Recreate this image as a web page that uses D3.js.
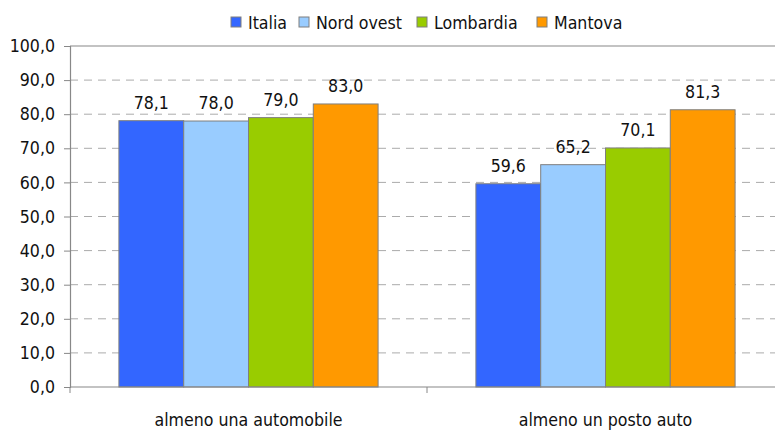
<!DOCTYPE html>
<html><head><meta charset="utf-8">
<script src="https://cdn.jsdelivr.net/npm/d3@7"></script>
<style>body{margin:0;background:#fff}svg{display:block}text{font-family:"DejaVu Sans Condensed","DejaVu Sans",sans-serif;font-stretch:condensed;fill:#111}</style>
</head><body><svg id="c" width="775" height="430"></svg>
<script>
const categories = ["almeno una automobile", "almeno un posto auto"];
const seriesNames = ["Italia", "Nord ovest", "Lombardia", "Mantova"];
const italia = [78.1, 59.6];
const nordOvest = [78.0, 65.2];
const lombardia = [79.0, 70.1];
const mantova = [83.0, 81.3];
const yTicks = [0, 10, 20, 30, 40, 50, 60, 70, 80, 90, 100];
const colors = ["#3366FF", "#99CCFF", "#99CC00", "#FF9900"];

const seriesValues = [italia, nordOvest, lombardia, mantova];
const fmt = v => d3.format(".1f")(v).replace(".", ",");
const svg = d3.select("#c");
const L = 70, R = 784, T = 46, B = 387;
const fs = 17.6;
const FF = '"DejaVu Sans Condensed","DejaVu Sans",sans-serif';

const y = d3.scaleLinear().domain([0, 100]).range([B, T]);
const x0 = d3.scaleBand().domain(categories).range([L, R]).padding(0);
const bw = x0.bandwidth();
const x1 = d3.scaleBand().domain(seriesNames).range([bw * 0.137, bw * (1 - 0.137)]).padding(0);

// gridlines
svg.append("g").selectAll("line").data(yTicks.filter(t => t > 0 && t < 100)).join("line")
  .attr("x1", L).attr("x2", 775).attr("y1", d => y(d)).attr("y2", d => y(d))
  .attr("stroke", "#ababab").attr("stroke-width", 1).attr("stroke-dasharray", "8,6");
// top border
svg.append("line").attr("x1", L).attr("x2", 775).attr("y1", y(100)).attr("y2", y(100))
  .attr("stroke", "#888").attr("stroke-width", 1.2);

// bars
const groups = svg.append("g").selectAll("g").data(categories).join("g")
  .attr("transform", d => `translate(${x0(d)},0)`);
groups.selectAll("rect").data((c, ci) => seriesNames.map((s, si) => ({s, si, v: seriesValues[si][ci]}))).join("rect")
  .attr("x", d => x1(d.s)).attr("width", x1.bandwidth())
  .attr("y", d => y(d.v)).attr("height", d => y(0) - y(d.v))
  .attr("fill", d => colors[d.si]).attr("stroke", "#7f7f7f").attr("stroke-width", 1);
groups.selectAll("text").data((c, ci) => seriesNames.map((s, si) => ({s, si, v: seriesValues[si][ci]}))).join("text")
  .attr("x", d => x1(d.s) + x1.bandwidth() / 2).attr("y", d => y(d.v) - 12)
  .attr("text-anchor", "middle").attr("font-size", fs).text(d => fmt(d.v));

// y axis
const yAxis = d3.axisLeft(y).tickValues(yTicks).tickFormat(fmt).tickSize(6).tickPadding(9);
const ya = svg.append("g").attr("transform", `translate(${L},0)`).call(yAxis);
ya.select(".domain").attr("stroke", "#888").attr("stroke-width", 1.2);
ya.selectAll(".tick line").attr("stroke", "#888");
ya.selectAll("text").attr("font-size", fs).attr("font-family", FF).attr("fill", "#111");

// x axis
svg.append("line").attr("x1", L).attr("x2", 775).attr("y1", B).attr("y2", B).attr("stroke", "#888").attr("stroke-width", 1.2);
svg.append("g").selectAll("line").data([L, ...categories.map(c => x0(c) + bw)]).join("line")
  .attr("x1", d => d).attr("x2", d => d).attr("y1", B).attr("y2", B + 6).attr("stroke", "#888");
svg.append("g").selectAll("text").data(categories).join("text")
  .attr("x", d => x0(d) + bw / 2).attr("y", 426).attr("text-anchor", "middle").attr("font-size", fs).text(d => d);

// legend
const legendX = [231, 299, 417, 537];
const lg = svg.append("g").selectAll("g").data(seriesNames).join("g")
  .attr("transform", (d, i) => `translate(${legendX[i]},17)`);
lg.append("rect").attr("width", 10).attr("height", 10).attr("fill", (d, i) => colors[i]).attr("stroke", "#7f7f7f");
lg.append("text").attr("x", 17).attr("y", 12).attr("font-size", fs).text(d => d);
</script></body></html>
